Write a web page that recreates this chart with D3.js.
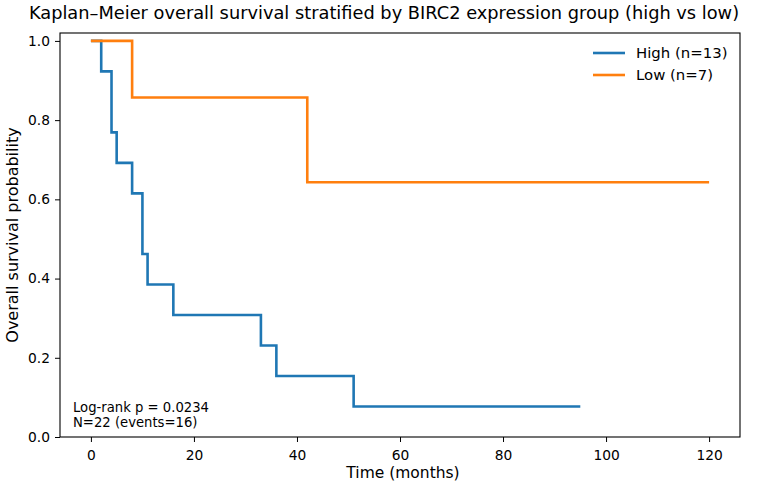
<!DOCTYPE html>
<html>
<head>
<meta charset="utf-8">
<script src="https://cdn.jsdelivr.net/npm/d3@7"></script>
<style>
  body { margin: 0; background: #fff; }
  text { font-family: "DejaVu Sans", sans-serif; fill: #000; }
</style>
</head>
<body>
<div id="canvas"></div>
<script>
// KM step data
const highTimes = [0, 2, 4, 5, 8, 10, 11, 16, 33, 36, 51, 95]
const highSurv  = [1, 0.923, 0.769, 0.692, 0.615, 0.462, 0.385, 0.308, 0.231, 0.154, 0.077, 0.077]
const lowTimes  = [0, 8, 42, 120]
const lowSurv   = [1, 0.857, 0.643, 0.643]
const groups = ["High (n=13)", "Low (n=7)"]
const xTicks = [0, 20, 40, 60, 80, 100, 120]
const yTicks = [0, 0.2, 0.4, 0.6, 0.8, 1.0]
const notes = ["Log-rank p = 0.0234", "N=22 (events=16)"]

const colors = ["#1f77b4", "#ff7f0e"]
const width = 757, height = 486
const margin = {top: 33, left: 60, bottom: 49, right: 17}
const iwidth = width - margin.left - margin.right
const iheight = height - margin.top - margin.bottom

const svg = d3.select("#canvas").append("svg")
  .attr("width", width).attr("height", height)

const g = svg.append("g").attr("transform", `translate(${margin.left},${margin.top})`)

const x = d3.scaleLinear().domain([-6, 126]).range([0, iwidth])
const y = d3.scaleLinear().domain([0, 1.02]).range([iheight, 0])

const series = [
  highTimes.map((t, i) => [t, highSurv[i]]),
  lowTimes.map((t, i) => [t, lowSurv[i]])
]

const line = d3.line().x(d => x(d[0])).y(d => y(d[1])).curve(d3.curveStepAfter)

g.selectAll("path.km").data(series).enter().append("path")
  .attr("class", "km")
  .attr("d", line)
  .attr("fill", "none")
  .attr("stroke", (d, i) => colors[i])
  .attr("stroke-width", 2.6)

const xAxis = g.append("g")
  .attr("transform", `translate(0,${iheight})`)
  .call(d3.axisBottom(x).tickValues(xTicks).tickSize(5).tickPadding(5).tickFormat(d3.format("d")))
const yAxis = g.append("g")
  .call(d3.axisLeft(y).tickValues(yTicks).tickSize(5).tickPadding(5).tickFormat(d3.format(".1f")))

;[xAxis, yAxis].forEach(a => {
  a.select(".domain").remove()
  a.selectAll("text").style("font-size", "13.8px").attr("fill", "#000")
  a.selectAll("line").attr("stroke", "#000").attr("stroke-width", 1)
})
xAxis.selectAll("text").attr("dy", "0.95em")

g.append("rect")
  .attr("width", iwidth).attr("height", iheight)
  .attr("fill", "none").attr("stroke", "#000").attr("stroke-width", 1.1)

// legend
const leg = g.append("g").attr("transform", `translate(${iwidth - 147},20)`)
groups.forEach((name, i) => {
  leg.append("line").attr("x1", 0).attr("x2", 32).attr("y1", i * 22).attr("y2", i * 22)
    .attr("stroke", colors[i]).attr("stroke-width", 2.6)
  leg.append("text").attr("x", 43).attr("y", i * 22).attr("dy", "0.35em")
    .style("font-size", "14.9px").text(name)
})

// annotation
notes.forEach((s, i) => {
  g.append("text").attr("x", 13).attr("y", iheight - 25 + i * 14.5)
    .style("font-size", "13.2px").text(s)
})

svg.append("text").attr("x", 403).attr("y", 478)
  .attr("text-anchor", "middle").style("font-size", "15.5px").text("Time (months)")

svg.append("text").attr("transform", `translate(18,${margin.top + iheight / 2}) rotate(-90)`)
  .attr("text-anchor", "middle").style("font-size", "16px").text("Overall survival probability")

svg.append("text").attr("x", 384).attr("y", 19)
  .attr("text-anchor", "middle").style("font-size", "17.8px")
  .text("Kaplan–Meier overall survival stratified by BIRC2 expression group (high vs low)")
</script>
</body>
</html>
